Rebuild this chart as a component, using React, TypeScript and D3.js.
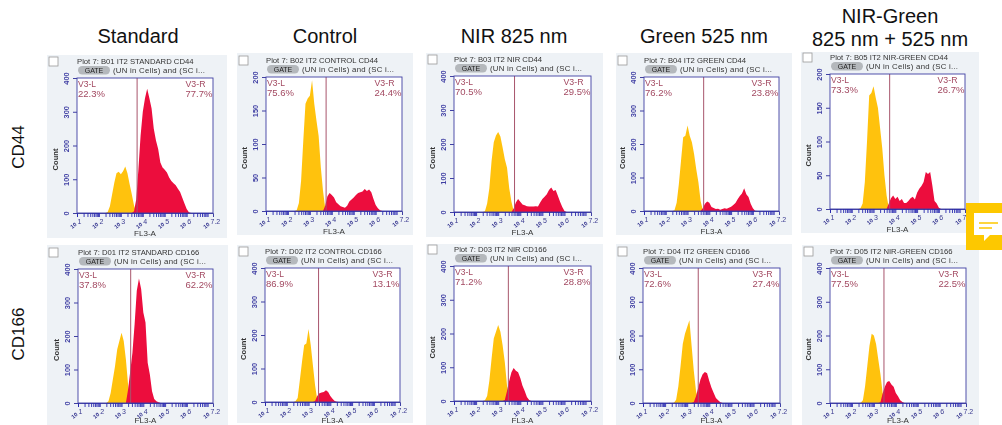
import React, { useEffect, useRef } from "react";
import * as d3 from "d3";

// counts per 0.1 decade bin, gated left (low) and right (high) of the V3 marker
const standardCd44Low = [3, 20, 55, 90, 118, 122, 115, 124, 138, 118, 85, 55, 22, 2];
const standardCd44High = [5, 40, 130, 230, 300, 340, 368, 340, 310, 250, 215, 190, 150, 135, 128, 120, 105, 95, 88, 82, 72, 62, 45, 28, 12, 2];
const controlCd44Low = [1, 12, 45, 105, 160, 168, 172, 195, 160, 135, 112, 65, 30, 4];
const controlCd44High = [8, 22, 27, 24, 20, 13, 10, 7, 6, 5, 8, 14, 17, 20, 24, 27, 28, 29, 33, 30, 32, 28, 18, 9, 4, 1];
const nirCd44Low = [2, 25, 70, 150, 205, 225, 235, 222, 190, 155, 130, 70, 30, 3];
const nirCd44High = [10, 28, 38, 30, 22, 20, 17, 16, 16, 16, 17, 16, 28, 38, 45, 52, 65, 72, 62, 65, 48, 30, 15, 3];
const greenCd44Low = [2, 25, 80, 150, 220, 225, 255, 225, 205, 170, 125, 85, 30, 3];
const greenCd44High = [8, 22, 28, 25, 12, 9, 6, 7, 4, 6, 8, 7, 10, 13, 18, 24, 35, 45, 52, 68, 50, 42, 22, 8, 1];
const nirGreenCd44Low = [1, 8, 40, 100, 168, 172, 182, 165, 150, 120, 90, 50, 20, 2];
const nirGreenCd44High = [8, 16, 20, 15, 18, 12, 15, 9, 9, 12, 16, 18, 14, 24, 30, 34, 40, 55, 52, 55, 35, 12, 8, 2];

const standardCd166Low = [5, 30, 70, 110, 160, 185, 210, 185, 130, 55];
const standardCd166High = [40, 95, 150, 235, 335, 372, 340, 270, 240, 120, 85, 35, 12, 5, 2];
const controlCd166Low = [2, 12, 65, 120, 170, 175, 218, 170, 110, 50, 6];
const controlCd166High = [3, 18, 26, 28, 30, 35, 30, 18, 10, 3, 1];
const nirCd166Low = [2, 15, 60, 125, 185, 205, 225, 205, 165, 115, 45, 5];
const nirCd166High = [3, 30, 60, 85, 98, 90, 85, 68, 45, 30, 12, 3];
const greenCd166Low = [1, 10, 50, 110, 175, 205, 225, 245, 170, 95, 35, 5];
const greenCd166High = [3, 20, 45, 70, 85, 92, 88, 65, 45, 30, 15, 8, 2];
const nirGreenCd166Low = [1, 8, 50, 110, 170, 205, 200, 175, 130, 85, 30, 3];
const nirGreenCd166High = [2, 28, 48, 62, 65, 55, 48, 30, 20, 8, 3];

const columnTitles = ["Standard", "Control", "NIR 825 nm", "Green 525 nm"];
const lastColumnTitle = ["NIR-Green", "825 nm + 525 nm"];
const rowTitles = ["CD44", "CD166"];

const plotNames = [
  "Plot 7: B01 IT2 STANDARD CD44", "Plot 7: B02 IT2 CONTROL CD44", "Plot 7: B03 IT2 NIR CD44",
  "Plot 7: B04 IT2 GREEN CD44", "Plot 7: B05 IT2 NIR-GREEN CD44",
  "Plot 7: D01 IT2 STANDARD CD166", "Plot 7: D02 IT2 CONTROL CD166", "Plot 7: D03 IT2 NIR CD166",
  "Plot 7: D04 IT2 GREEN CD166", "Plot 7: D05 IT2 NIR-GREEN CD166",
];
const lowSeries = [standardCd44Low, controlCd44Low, nirCd44Low, greenCd44Low, nirGreenCd44Low,
  standardCd166Low, controlCd166Low, nirCd166Low, greenCd166Low, nirGreenCd166Low];
const highSeries = [standardCd44High, controlCd44High, nirCd44High, greenCd44High, nirGreenCd44High,
  standardCd166High, controlCd166High, nirCd166High, greenCd166High, nirGreenCd166High];
const lowStarts = [2.4, 2.4, 2.4, 2.4, 2.4, 2.4, 2.4, 2.4, 2.4, 2.4];
const highStarts = [3.6, 3.7, 3.7, 3.7, 3.7, 3.3, 3.3, 3.3, 3.3, 3.3];
const yMaxes = [400, 200, 400, 400, 200, 400, 400, 400, 400, 400];
const gates = [3.74, 3.74, 3.74, 3.74, 3.74, 3.42, 3.46, 3.46, 3.5, 3.46];
const leftPercents = ["22.3%", "75.6%", "70.5%", "76.2%", "73.3%", "37.8%", "86.9%", "71.2%", "72.6%", "77.5%"];
const rightPercents = ["77.7%", "24.4%", "29.5%", "23.8%", "26.7%", "62.2%", "13.1%", "28.8%", "27.4%", "22.5%"];
const xTickValues = [1, 2, 3, 4, 5, 6, 7.2];

// layout of each screenshot: grey card [x0, y0, x1, y1] and plot box [left, top, right, bottom]
const cards = [
  [47, 55, 227, 238], [237, 53, 413, 235], [426, 53, 603, 237], [616, 53, 792, 235], [801, 52, 979, 233],
  [47, 245, 228, 425], [237, 245, 413, 423], [426, 244, 603, 425], [616, 244, 792, 425], [802, 245, 979, 425],
];
const plots = [
  [77, 78, 213, 213], [266, 77, 402, 211], [454, 76, 591, 212], [644, 77, 779, 211], [830, 74, 965, 209],
  [78, 269, 213, 403], [265, 268, 400, 402], [454, 266, 591, 401], [643, 268, 780, 403], [830, 268, 966, 403],
];

const BIN = 0.1;
const BLUE = "#3f3fa3";
const MAROON = "#a34a62";
const SANS = "'Liberation Sans', Arial, sans-serif";

function minorTicks() {
  const out: number[] = [];
  for (let d = 1; d < 7; d++) {
    for (let k = 1; k < 10; k++) {
      const v = d + Math.log10(k);
      if (v <= 7.2) out.push(v);
    }
  }
  return out;
}

function Panel({ index }: { index: number }) {
  const xRef = useRef<SVGGElement>(null);
  const yRef = useRef<SVGGElement>(null);
  const [cx0, cy0, cx1, cy1] = cards[index];
  const [left, top, right, bottom] = plots[index];

  const x = d3.scaleLinear().domain([1, 7.2]).range([left, right]);
  const y = d3.scaleLinear().domain([0, yMaxes[index]]).range([bottom, top]);

  const pathFor = (start: number, values: number[]) => {
    const area = d3
      .area<number>()
      .x((_, i) => x(start + (i - 1) * BIN))
      .y0(bottom)
      .y1((d) => y(d));
    return area([0, ...values, 0]) as string;
  };

  useEffect(() => {
    const xAxis = d3
      .axisBottom(x)
      .tickValues(minorTicks())
      .tickSize(4)
      .tickFormat(() => "");
    d3.select(xRef.current!).call(xAxis as any);
    d3.select(xRef.current!).selectAll("line").attr("stroke", "#2a2ab0").attr("stroke-width", 0.9);
    d3.select(xRef.current!).select(".domain").attr("stroke", BLUE);

    const yAxis = d3
      .axisLeft(y)
      .tickValues(d3.range(0, yMaxes[index] + 1, yMaxes[index] / 4))
      .tickSize(4)
      .tickSizeOuter(0);
    d3.select(yRef.current!).call(yAxis as any);
    const sel = d3.select(yRef.current!);
    sel.selectAll("line").attr("stroke", BLUE);
    sel.select(".domain").attr("stroke", "none");
    sel
      .selectAll("text")
      .attr("fill", BLUE)
      .attr("font-family", SANS)
      .attr("font-size", 7.4)
      .attr("font-weight", "bold")
      .attr("text-anchor", "middle")
      .attr("dy", 0)
      .attr("x", 0)
      .attr("y", 0)
      .attr("transform", "translate(-8.5,0) rotate(-90)");
  }, []);

  return (
    <g>
      <rect x={cx0} y={cy0} width={cx1 - cx0} height={cy1 - cy0} fill="#eef2f6" />
      <rect x={cx0 + 2} y={top - 21} width={9} height={9} fill="#fff" stroke="#9a9a9a" strokeWidth={0.8} />
      <text x={left} y={top - 14.5} fontSize={7.7} fill="#333" fontFamily={SANS}>{plotNames[index]}</text>
      <rect x={left + 1} y={top - 12} width={32} height={8.5} rx={4.2} fill="#b4b8bc" />
      <text x={left + 17} y={top - 5} fontSize={7} textAnchor="middle" fill="#222" fontFamily={SANS}>GATE</text>
      <text x={left + 36} y={top - 5} fontSize={7.8} textLength={92} lengthAdjust="spacing" fill="#333" fontFamily={SANS}>(UN in Cells) and (SC i...</text>

      <rect x={left} y={top} width={right - left} height={bottom - top} fill="#fff" />
      <path d={pathFor(lowStarts[index], lowSeries[index])} fill="#ffc20e" />
      <path d={pathFor(highStarts[index], highSeries[index])} fill="#ec0a3e" />
      <line x1={x(gates[index])} x2={x(gates[index])} y1={top} y2={bottom} stroke="#a8556c" strokeWidth={1} />
      <rect x={left} y={top} width={right - left} height={bottom - top} fill="none" stroke={BLUE} strokeWidth={0.9} />

      <g transform={`translate(0,${bottom})`} ref={xRef} />
      <g transform={`translate(${left},0)`} ref={yRef} />

      <text x={left + 1} y={top + 9.2} fontSize={8.8} textLength={18} lengthAdjust="spacingAndGlyphs" fill={MAROON} fontFamily={SANS}>V3-L</text>
      <text x={left + 1} y={top + 19.2} fontSize={8.8} textLength={27} lengthAdjust="spacingAndGlyphs" fill={MAROON} fontFamily={SANS}>{leftPercents[index]}</text>
      <text x={right - 27.5} y={top + 9.2} fontSize={8.8} textLength={20} lengthAdjust="spacingAndGlyphs" fill={MAROON} fontFamily={SANS}>V3-R</text>
      <text x={right - 27.5} y={top + 19.2} fontSize={8.8} textLength={27} lengthAdjust="spacingAndGlyphs" fill={MAROON} fontFamily={SANS}>{rightPercents[index]}</text>

      {xTickValues.map((t) => {
        const isLast = t === xTickValues[xTickValues.length - 1];
        const tx = x(t) - (isLast ? 3 : 0);
        return (
          <g key={t} transform={`translate(${tx},${bottom + 12})`} fontFamily={SANS}>
            <text transform="rotate(-40)" fontSize={5.5} fill="#33338f" fontWeight="bold" textAnchor="end">10</text>
            <text x={0.5} y={-1} fontSize={7} fill="#3a3a90">{t}</text>
          </g>
        );
      })}
      <text x={(left + right) / 2} y={Math.min(bottom + 22.5, 423)} fontSize={8} textAnchor="middle" fill="#333" fontFamily={SANS}>FL3-A</text>
      <text
        transform={`translate(${left - 19},${(top + bottom) / 2 + 14}) rotate(-90)`}
        fontSize={7.6}
        fontWeight="bold"
        textAnchor="middle"
        fill="#333"
        fontFamily={SANS}
      >
        Count
      </text>
    </g>
  );
}

const titleX = [138, 325, 514, 704];
const rowTitleY = [147, 334];

export default function App() {
  return (
    <svg width={1002} height={425} style={{ position: "absolute", left: 0, top: 0, background: "#fff" }}>
      <defs>
        <filter id="soft" x="0" y="0" width="100%" height="100%">
          <feGaussianBlur stdDeviation={0.55} />
        </filter>
      </defs>
      <g filter="url(#soft)">
        {plots.map((_, i) => (
          <Panel key={i} index={i} />
        ))}
      </g>
      <g fontFamily={SANS} fontSize={20} fill="#111" textAnchor="middle">
        {columnTitles.map((t, i) => (
          <text key={t} x={titleX[i]} y={43}>{t}</text>
        ))}
        <text x={890} y={23}>{lastColumnTitle[0]}</text>
        <text x={890} y={46}>{lastColumnTitle[1]}</text>
        {rowTitles.map((t, i) => (
          <text key={t} transform={`translate(24,${rowTitleY[i]}) rotate(-90)`} fontSize={17}>{t}</text>
        ))}
      </g>
      <rect x={966} y={203} width={36} height={47} fill="#fdc800" />
      <path d="M974,213 H1002 V235 H990 L984,241 V235 H974 Z" fill="#fff" />
      <path d="M979,223 H998 M979,228 H992" stroke="#fdc800" strokeWidth={1.5} />
    </svg>
  );
}
